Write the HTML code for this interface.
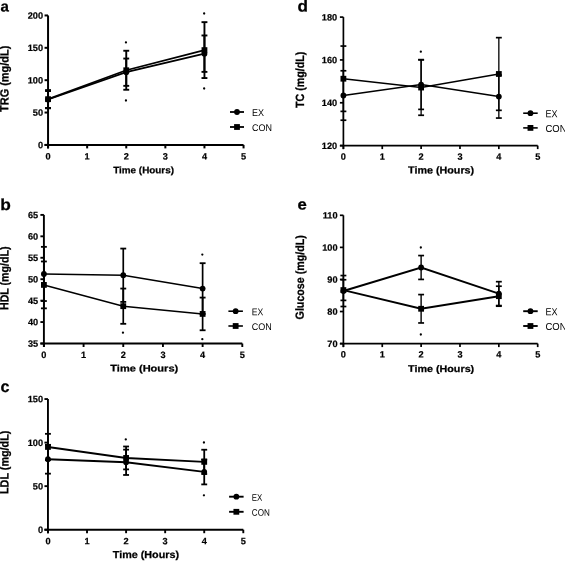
<!DOCTYPE html>
<html><head><meta charset="utf-8"><style>
html,body{margin:0;padding:0;background:#fff;}
body{width:565px;height:561px;overflow:hidden;}
svg{display:block;will-change:transform;}
text{font-family:"Liberation Sans", sans-serif;fill:#000;text-rendering:geometricPrecision;}
.tl{stroke:#000;stroke-width:0.2;}
.tt{stroke:#000;stroke-width:0.25;}
line,polyline{stroke:#000;stroke-linecap:butt;}
</style></head><body>
<svg width="565" height="561" viewBox="0 0 565 561">
<rect width="565" height="561" fill="#fff"/>
<line x1="48.05" y1="15.45" x2="48.05" y2="148.4" stroke-width="2"/>
<line x1="44.55" y1="144.9" x2="243.55" y2="144.9" stroke-width="2"/>
<line x1="44.55" y1="144.9" x2="48.05" y2="144.9" stroke-width="2"/>
<text transform="translate(43 148.2) rotate(0.05)" font-size="9.2" font-weight="bold" text-anchor="end" class="tl">0</text>
<line x1="44.55" y1="112.54" x2="48.05" y2="112.54" stroke-width="2"/>
<text transform="translate(43 115.84) rotate(0.05)" font-size="9.2" font-weight="bold" text-anchor="end" class="tl">50</text>
<line x1="44.55" y1="80.18" x2="48.05" y2="80.18" stroke-width="2"/>
<text transform="translate(43 83.48) rotate(0.05)" font-size="9.2" font-weight="bold" text-anchor="end" class="tl">100</text>
<line x1="44.55" y1="47.81" x2="48.05" y2="47.81" stroke-width="2"/>
<text transform="translate(43 51.11) rotate(0.05)" font-size="9.2" font-weight="bold" text-anchor="end" class="tl">150</text>
<line x1="44.55" y1="15.45" x2="48.05" y2="15.45" stroke-width="2"/>
<text transform="translate(43 18.75) rotate(0.05)" font-size="9.2" font-weight="bold" text-anchor="end" class="tl">200</text>
<line x1="48.05" y1="144.9" x2="48.05" y2="148.4" stroke-width="2"/>
<text transform="translate(48.05 159.6) rotate(0.05)" font-size="9.2" font-weight="bold" text-anchor="middle" class="tl">0</text>
<line x1="87.15" y1="144.9" x2="87.15" y2="148.4" stroke-width="2"/>
<text transform="translate(87.15 159.6) rotate(0.05)" font-size="9.2" font-weight="bold" text-anchor="middle" class="tl">1</text>
<line x1="126.25" y1="144.9" x2="126.25" y2="148.4" stroke-width="2"/>
<text transform="translate(126.25 159.6) rotate(0.05)" font-size="9.2" font-weight="bold" text-anchor="middle" class="tl">2</text>
<line x1="165.35" y1="144.9" x2="165.35" y2="148.4" stroke-width="2"/>
<text transform="translate(165.35 159.6) rotate(0.05)" font-size="9.2" font-weight="bold" text-anchor="middle" class="tl">3</text>
<line x1="204.45" y1="144.9" x2="204.45" y2="148.4" stroke-width="2"/>
<text transform="translate(204.45 159.6) rotate(0.05)" font-size="9.2" font-weight="bold" text-anchor="middle" class="tl">4</text>
<line x1="243.55" y1="144.9" x2="243.55" y2="148.4" stroke-width="2"/>
<text transform="translate(243.55 159.6) rotate(0.05)" font-size="9.2" font-weight="bold" text-anchor="middle" class="tl">5</text>
<text transform="translate(143.6 173.3) rotate(0.05)" font-size="9.33" font-weight="bold" text-anchor="middle" textLength="60.8" lengthAdjust="spacingAndGlyphs" class="tt">Time (Hours)</text>
<text transform="translate(8.4 78.8) rotate(-89.95) scale(1.0000 1.0900)" font-size="10.9" font-weight="bold" text-anchor="middle" textLength="66.2" lengthAdjust="spacingAndGlyphs" class="tt">TRG (mg/dL)</text>
<text transform="translate(0.45 11.6) rotate(0.05)" font-size="15.1" font-weight="bold" text-anchor="start" class="tt">a</text>
<polyline fill="none" stroke-width="1.8" points="48.05,99.5 126.25,72.2 204.45,53.67"/>
<polyline fill="none" stroke-width="1.8" points="48.05,99.17 126.25,70.25 204.45,50.1"/>
<line x1="48.05" y1="91.05" x2="48.05" y2="107.95" stroke-width="1.9"/>
<line x1="45.1" y1="91.05" x2="51" y2="91.05" stroke-width="1.9"/>
<line x1="45.1" y1="107.95" x2="51" y2="107.95" stroke-width="1.9"/>
<line x1="126.25" y1="58.55" x2="126.25" y2="85.85" stroke-width="1.9"/>
<line x1="123.3" y1="58.55" x2="129.2" y2="58.55" stroke-width="1.9"/>
<line x1="123.3" y1="85.85" x2="129.2" y2="85.85" stroke-width="1.9"/>
<line x1="204.45" y1="35.47" x2="204.45" y2="71.88" stroke-width="1.9"/>
<line x1="201.5" y1="35.47" x2="207.4" y2="35.47" stroke-width="1.9"/>
<line x1="201.5" y1="71.88" x2="207.4" y2="71.88" stroke-width="1.9"/>
<line x1="48.05" y1="90.07" x2="48.05" y2="108.28" stroke-width="1.9"/>
<line x1="45.1" y1="90.07" x2="51" y2="90.07" stroke-width="1.9"/>
<line x1="45.1" y1="108.28" x2="51" y2="108.28" stroke-width="1.9"/>
<line x1="126.25" y1="50.75" x2="126.25" y2="89.75" stroke-width="1.9"/>
<line x1="123.3" y1="50.75" x2="129.2" y2="50.75" stroke-width="1.9"/>
<line x1="123.3" y1="89.75" x2="129.2" y2="89.75" stroke-width="1.9"/>
<line x1="204.45" y1="22.15" x2="204.45" y2="78.05" stroke-width="1.9"/>
<line x1="201.5" y1="22.15" x2="207.4" y2="22.15" stroke-width="1.9"/>
<line x1="201.5" y1="78.05" x2="207.4" y2="78.05" stroke-width="1.9"/>
<circle cx="48.05" cy="99.5" r="2.9"/>
<circle cx="126.25" cy="72.2" r="2.9"/>
<circle cx="204.45" cy="53.67" r="2.9"/>
<rect x="45.15" y="96.27" width="5.8" height="5.8"/>
<rect x="123.35" y="67.35" width="5.8" height="5.8"/>
<rect x="201.55" y="47.2" width="5.8" height="5.8"/>
<circle cx="125.95" cy="42.4" r="1.15"/>
<circle cx="125.95" cy="100.5" r="1.15"/>
<circle cx="204.15" cy="13.5" r="1.15"/>
<circle cx="204.15" cy="88.5" r="1.15"/>
<line x1="230" y1="112" x2="244" y2="112" stroke-width="1.8"/>
<circle cx="237" cy="112" r="2.9"/>
<text transform="translate(252 116) rotate(0.05)" font-size="9.7" font-weight="normal" text-anchor="start" textLength="12" lengthAdjust="spacingAndGlyphs">EX</text>
<line x1="230" y1="127" x2="244" y2="127" stroke-width="1.8"/>
<rect x="234.1" y="124.1" width="5.8" height="5.8"/>
<text transform="translate(252 131) rotate(0.05)" font-size="9.7" font-weight="normal" text-anchor="start" textLength="20" lengthAdjust="spacingAndGlyphs">CON</text>
<line x1="43.9" y1="214.9" x2="43.9" y2="347" stroke-width="1.9"/>
<line x1="40.4" y1="343.5" x2="242.3" y2="343.5" stroke-width="1.9"/>
<line x1="40.4" y1="343.5" x2="43.9" y2="343.5" stroke-width="1.9"/>
<text transform="translate(38.2 346.8) rotate(0.05)" font-size="9.2" font-weight="bold" text-anchor="end" class="tl">35</text>
<line x1="40.4" y1="322.07" x2="43.9" y2="322.07" stroke-width="1.9"/>
<text transform="translate(38.2 325.37) rotate(0.05)" font-size="9.2" font-weight="bold" text-anchor="end" class="tl">40</text>
<line x1="40.4" y1="300.63" x2="43.9" y2="300.63" stroke-width="1.9"/>
<text transform="translate(38.2 303.93) rotate(0.05)" font-size="9.2" font-weight="bold" text-anchor="end" class="tl">45</text>
<line x1="40.4" y1="279.2" x2="43.9" y2="279.2" stroke-width="1.9"/>
<text transform="translate(38.2 282.5) rotate(0.05)" font-size="9.2" font-weight="bold" text-anchor="end" class="tl">50</text>
<line x1="40.4" y1="257.77" x2="43.9" y2="257.77" stroke-width="1.9"/>
<text transform="translate(38.2 261.07) rotate(0.05)" font-size="9.2" font-weight="bold" text-anchor="end" class="tl">55</text>
<line x1="40.4" y1="236.33" x2="43.9" y2="236.33" stroke-width="1.9"/>
<text transform="translate(38.2 239.63) rotate(0.05)" font-size="9.2" font-weight="bold" text-anchor="end" class="tl">60</text>
<line x1="40.4" y1="214.9" x2="43.9" y2="214.9" stroke-width="1.9"/>
<text transform="translate(38.2 218.2) rotate(0.05)" font-size="9.2" font-weight="bold" text-anchor="end" class="tl">65</text>
<line x1="43.9" y1="343.5" x2="43.9" y2="347" stroke-width="1.9"/>
<text transform="translate(43.9 357.9) rotate(0.05)" font-size="9.2" font-weight="bold" text-anchor="middle" class="tl">0</text>
<line x1="83.58" y1="343.5" x2="83.58" y2="347" stroke-width="1.9"/>
<text transform="translate(83.58 357.9) rotate(0.05)" font-size="9.2" font-weight="bold" text-anchor="middle" class="tl">1</text>
<line x1="123.26" y1="343.5" x2="123.26" y2="347" stroke-width="1.9"/>
<text transform="translate(123.26 357.9) rotate(0.05)" font-size="9.2" font-weight="bold" text-anchor="middle" class="tl">2</text>
<line x1="162.94" y1="343.5" x2="162.94" y2="347" stroke-width="1.9"/>
<text transform="translate(162.94 357.9) rotate(0.05)" font-size="9.2" font-weight="bold" text-anchor="middle" class="tl">3</text>
<line x1="202.62" y1="343.5" x2="202.62" y2="347" stroke-width="1.9"/>
<text transform="translate(202.62 357.9) rotate(0.05)" font-size="9.2" font-weight="bold" text-anchor="middle" class="tl">4</text>
<line x1="242.3" y1="343.5" x2="242.3" y2="347" stroke-width="1.9"/>
<text transform="translate(242.3 357.9) rotate(0.05)" font-size="9.2" font-weight="bold" text-anchor="middle" class="tl">5</text>
<text transform="translate(144.25 371.4) rotate(0.05)" font-size="9.3" font-weight="bold" text-anchor="middle" textLength="67.9" lengthAdjust="spacingAndGlyphs" class="tt">Time (Hours)</text>
<text transform="translate(8.4 278.25) rotate(-89.95) scale(1.0000 1.0900)" font-size="10.9" font-weight="bold" text-anchor="middle" textLength="63.5" lengthAdjust="spacingAndGlyphs" class="tt">HDL (mg/dL)</text>
<text transform="translate(0.35 209.9) rotate(0.05) scale(1.0800 1.0000)" font-size="16" font-weight="bold" text-anchor="start" class="tt">b</text>
<polyline fill="none" stroke-width="1.6" points="43.9,273.94 123.26,275.23 202.62,288.56"/>
<polyline fill="none" stroke-width="1.6" points="43.9,284.91 123.26,306.19 202.62,313.93"/>
<line x1="43.9" y1="246.85" x2="43.9" y2="301.03" stroke-width="1.7"/>
<line x1="40.95" y1="246.85" x2="46.85" y2="246.85" stroke-width="1.8"/>
<line x1="40.95" y1="301.03" x2="46.85" y2="301.03" stroke-width="1.8"/>
<line x1="123.26" y1="248.57" x2="123.26" y2="301.89" stroke-width="1.7"/>
<line x1="120.31" y1="248.57" x2="126.21" y2="248.57" stroke-width="1.8"/>
<line x1="120.31" y1="301.89" x2="126.21" y2="301.89" stroke-width="1.8"/>
<line x1="202.62" y1="263.19" x2="202.62" y2="313.93" stroke-width="1.7"/>
<line x1="199.67" y1="263.19" x2="205.57" y2="263.19" stroke-width="1.8"/>
<line x1="199.67" y1="313.93" x2="205.57" y2="313.93" stroke-width="1.8"/>
<line x1="43.9" y1="261.47" x2="43.9" y2="308.34" stroke-width="1.7"/>
<line x1="40.95" y1="261.47" x2="46.85" y2="261.47" stroke-width="1.8"/>
<line x1="40.95" y1="308.34" x2="46.85" y2="308.34" stroke-width="1.8"/>
<line x1="123.26" y1="288.56" x2="123.26" y2="323.82" stroke-width="1.7"/>
<line x1="120.31" y1="288.56" x2="126.21" y2="288.56" stroke-width="1.8"/>
<line x1="120.31" y1="323.82" x2="126.21" y2="323.82" stroke-width="1.8"/>
<line x1="202.62" y1="297.59" x2="202.62" y2="330.27" stroke-width="1.7"/>
<line x1="199.67" y1="297.59" x2="205.57" y2="297.59" stroke-width="1.8"/>
<line x1="199.67" y1="330.27" x2="205.57" y2="330.27" stroke-width="1.8"/>
<circle cx="43.9" cy="273.94" r="2.9"/>
<circle cx="123.26" cy="275.23" r="2.9"/>
<circle cx="202.62" cy="288.56" r="2.9"/>
<rect x="41" y="282.01" width="5.8" height="5.8"/>
<rect x="120.36" y="303.29" width="5.8" height="5.8"/>
<rect x="199.72" y="311.03" width="5.8" height="5.8"/>
<circle cx="122.96" cy="332.7" r="1.15"/>
<circle cx="202.32" cy="254.6" r="1.15"/>
<circle cx="202.32" cy="339.2" r="1.15"/>
<line x1="228.4" y1="311.2" x2="242.9" y2="311.2" stroke-width="1.6"/>
<circle cx="235.65" cy="311.2" r="2.9"/>
<text transform="translate(251.8 315.2) rotate(0.05)" font-size="9.7" font-weight="normal" text-anchor="start" textLength="11.5" lengthAdjust="spacingAndGlyphs">EX</text>
<line x1="228.4" y1="326" x2="242.9" y2="326" stroke-width="1.6"/>
<rect x="232.75" y="323.1" width="5.8" height="5.8"/>
<text transform="translate(251.8 330) rotate(0.05)" font-size="9.7" font-weight="normal" text-anchor="start" textLength="20" lengthAdjust="spacingAndGlyphs">CON</text>
<line x1="47.95" y1="399.05" x2="47.95" y2="533.2" stroke-width="1.9"/>
<line x1="44.45" y1="529.7" x2="243.3" y2="529.7" stroke-width="1.9"/>
<line x1="44.45" y1="529.7" x2="47.95" y2="529.7" stroke-width="1.9"/>
<text transform="translate(43 533) rotate(0.05)" font-size="9.2" font-weight="bold" text-anchor="end" class="tl">0</text>
<line x1="44.45" y1="486.15" x2="47.95" y2="486.15" stroke-width="1.9"/>
<text transform="translate(43 489.45) rotate(0.05)" font-size="9.2" font-weight="bold" text-anchor="end" class="tl">50</text>
<line x1="44.45" y1="442.6" x2="47.95" y2="442.6" stroke-width="1.9"/>
<text transform="translate(43 445.9) rotate(0.05)" font-size="9.2" font-weight="bold" text-anchor="end" class="tl">100</text>
<line x1="44.45" y1="399.05" x2="47.95" y2="399.05" stroke-width="1.9"/>
<text transform="translate(43 402.35) rotate(0.05)" font-size="9.2" font-weight="bold" text-anchor="end" class="tl">150</text>
<line x1="47.95" y1="529.7" x2="47.95" y2="533.2" stroke-width="1.9"/>
<text transform="translate(47.95 544.3) rotate(0.05)" font-size="9.2" font-weight="bold" text-anchor="middle" class="tl">0</text>
<line x1="87.02" y1="529.7" x2="87.02" y2="533.2" stroke-width="1.9"/>
<text transform="translate(87.02 544.3) rotate(0.05)" font-size="9.2" font-weight="bold" text-anchor="middle" class="tl">1</text>
<line x1="126.09" y1="529.7" x2="126.09" y2="533.2" stroke-width="1.9"/>
<text transform="translate(126.09 544.3) rotate(0.05)" font-size="9.2" font-weight="bold" text-anchor="middle" class="tl">2</text>
<line x1="165.16" y1="529.7" x2="165.16" y2="533.2" stroke-width="1.9"/>
<text transform="translate(165.16 544.3) rotate(0.05)" font-size="9.2" font-weight="bold" text-anchor="middle" class="tl">3</text>
<line x1="204.23" y1="529.7" x2="204.23" y2="533.2" stroke-width="1.9"/>
<text transform="translate(204.23 544.3) rotate(0.05)" font-size="9.2" font-weight="bold" text-anchor="middle" class="tl">4</text>
<line x1="243.3" y1="529.7" x2="243.3" y2="533.2" stroke-width="1.9"/>
<text transform="translate(243.3 544.3) rotate(0.05)" font-size="9.2" font-weight="bold" text-anchor="middle" class="tl">5</text>
<text transform="translate(145.9 558) rotate(0.05)" font-size="10.15" font-weight="bold" text-anchor="middle" textLength="66.3" lengthAdjust="spacingAndGlyphs" class="tt">Time (Hours)</text>
<text transform="translate(8.4 462.3) rotate(-89.95) scale(1.0000 1.0900)" font-size="10.9" font-weight="bold" text-anchor="middle" textLength="63.4" lengthAdjust="spacingAndGlyphs" class="tt">LDL (mg/dL)</text>
<text transform="translate(0.45 392.1) rotate(0.05)" font-size="16.2" font-weight="bold" text-anchor="start" class="tt">c</text>
<polyline fill="none" stroke-width="1.9" points="47.95,459.25 126.09,462.31 204.23,471.91"/>
<polyline fill="none" stroke-width="1.9" points="47.95,446.94 126.09,457.94 204.23,461.87"/>
<line x1="47.95" y1="444.84" x2="47.95" y2="473.66" stroke-width="1.8"/>
<line x1="45" y1="444.84" x2="50.9" y2="444.84" stroke-width="1.8"/>
<line x1="45" y1="473.66" x2="50.9" y2="473.66" stroke-width="1.8"/>
<line x1="126.09" y1="449.64" x2="126.09" y2="474.97" stroke-width="1.8"/>
<line x1="123.14" y1="449.64" x2="129.04" y2="449.64" stroke-width="1.8"/>
<line x1="123.14" y1="474.97" x2="129.04" y2="474.97" stroke-width="1.8"/>
<line x1="204.23" y1="459.42" x2="204.23" y2="484.4" stroke-width="1.8"/>
<line x1="201.28" y1="459.42" x2="207.18" y2="459.42" stroke-width="1.8"/>
<line x1="201.28" y1="484.4" x2="207.18" y2="484.4" stroke-width="1.8"/>
<line x1="47.95" y1="433.84" x2="47.95" y2="460.04" stroke-width="1.8"/>
<line x1="45" y1="433.84" x2="50.9" y2="433.84" stroke-width="1.8"/>
<line x1="45" y1="460.04" x2="50.9" y2="460.04" stroke-width="1.8"/>
<line x1="126.09" y1="446.5" x2="126.09" y2="469.38" stroke-width="1.8"/>
<line x1="123.14" y1="446.5" x2="129.04" y2="446.5" stroke-width="1.8"/>
<line x1="123.14" y1="469.38" x2="129.04" y2="469.38" stroke-width="1.8"/>
<line x1="204.23" y1="449.73" x2="204.23" y2="474.01" stroke-width="1.8"/>
<line x1="201.28" y1="449.73" x2="207.18" y2="449.73" stroke-width="1.8"/>
<line x1="201.28" y1="474.01" x2="207.18" y2="474.01" stroke-width="1.8"/>
<circle cx="47.95" cy="459.25" r="2.9"/>
<circle cx="126.09" cy="462.31" r="2.9"/>
<circle cx="204.23" cy="471.91" r="2.9"/>
<rect x="45.05" y="444.04" width="5.8" height="5.8"/>
<rect x="123.19" y="455.04" width="5.8" height="5.8"/>
<rect x="201.33" y="458.97" width="5.8" height="5.8"/>
<circle cx="125.79" cy="439.4" r="1.15"/>
<circle cx="203.93" cy="442.5" r="1.15"/>
<circle cx="203.93" cy="495.3" r="1.15"/>
<line x1="229.1" y1="496.7" x2="243.6" y2="496.7" stroke-width="1.9"/>
<circle cx="236.35" cy="496.7" r="2.9"/>
<text transform="translate(251.8 500.7) rotate(0.05)" font-size="9.5" font-weight="normal" text-anchor="start" textLength="10.5" lengthAdjust="spacingAndGlyphs">EX</text>
<line x1="229.1" y1="511.8" x2="243.6" y2="511.8" stroke-width="1.9"/>
<rect x="233.45" y="508.9" width="5.8" height="5.8"/>
<text transform="translate(251.8 515.8) rotate(0.05)" font-size="9.5" font-weight="normal" text-anchor="start" textLength="18" lengthAdjust="spacingAndGlyphs">CON</text>
<line x1="343.4" y1="17.1" x2="343.4" y2="149.1" stroke-width="1.7"/>
<line x1="339.9" y1="145.6" x2="537.7" y2="145.6" stroke-width="1.7"/>
<line x1="339.9" y1="145.6" x2="343.4" y2="145.6" stroke-width="1.7"/>
<text transform="translate(337.2 148.9) rotate(0.05)" font-size="9.2" font-weight="bold" text-anchor="end" class="tl">120</text>
<line x1="339.9" y1="102.77" x2="343.4" y2="102.77" stroke-width="1.7"/>
<text transform="translate(337.2 106.07) rotate(0.05)" font-size="9.2" font-weight="bold" text-anchor="end" class="tl">140</text>
<line x1="339.9" y1="59.93" x2="343.4" y2="59.93" stroke-width="1.7"/>
<text transform="translate(337.2 63.23) rotate(0.05)" font-size="9.2" font-weight="bold" text-anchor="end" class="tl">160</text>
<line x1="339.9" y1="17.1" x2="343.4" y2="17.1" stroke-width="1.7"/>
<text transform="translate(337.2 20.4) rotate(0.05)" font-size="9.2" font-weight="bold" text-anchor="end" class="tl">180</text>
<line x1="343.4" y1="145.6" x2="343.4" y2="149.1" stroke-width="1.7"/>
<text transform="translate(343.4 159.7) rotate(0.05)" font-size="9.2" font-weight="bold" text-anchor="middle" class="tl">0</text>
<line x1="382.26" y1="145.6" x2="382.26" y2="149.1" stroke-width="1.7"/>
<text transform="translate(382.26 159.7) rotate(0.05)" font-size="9.2" font-weight="bold" text-anchor="middle" class="tl">1</text>
<line x1="421.12" y1="145.6" x2="421.12" y2="149.1" stroke-width="1.7"/>
<text transform="translate(421.12 159.7) rotate(0.05)" font-size="9.2" font-weight="bold" text-anchor="middle" class="tl">2</text>
<line x1="459.98" y1="145.6" x2="459.98" y2="149.1" stroke-width="1.7"/>
<text transform="translate(459.98 159.7) rotate(0.05)" font-size="9.2" font-weight="bold" text-anchor="middle" class="tl">3</text>
<line x1="498.84" y1="145.6" x2="498.84" y2="149.1" stroke-width="1.7"/>
<text transform="translate(498.84 159.7) rotate(0.05)" font-size="9.2" font-weight="bold" text-anchor="middle" class="tl">4</text>
<line x1="537.7" y1="145.6" x2="537.7" y2="149.1" stroke-width="1.7"/>
<text transform="translate(537.7 159.7) rotate(0.05)" font-size="9.2" font-weight="bold" text-anchor="middle" class="tl">5</text>
<text transform="translate(441.1 173.4) rotate(0.05)" font-size="10" font-weight="bold" text-anchor="middle" textLength="66.2" lengthAdjust="spacingAndGlyphs" class="tt">Time (Hours)</text>
<text transform="translate(303.9 79.85) rotate(-89.95) scale(1.0000 1.0900)" font-size="10.9" font-weight="bold" text-anchor="middle" textLength="56.3" lengthAdjust="spacingAndGlyphs" class="tt">TC (mg/dL)</text>
<text transform="translate(297.5 11.5) rotate(0.05) scale(1.0700 1.0000)" font-size="16" font-weight="bold" text-anchor="start" class="tt">d</text>
<polyline fill="none" stroke-width="1.6" points="343.4,95.49 421.12,84.53 498.84,96.56"/>
<polyline fill="none" stroke-width="1.6" points="343.4,78.72 421.12,87.54 498.84,73.99"/>
<line x1="343.4" y1="70.77" x2="343.4" y2="120.22" stroke-width="1.3"/>
<line x1="340.45" y1="70.77" x2="346.35" y2="70.77" stroke-width="1.7"/>
<line x1="340.45" y1="120.22" x2="346.35" y2="120.22" stroke-width="1.7"/>
<line x1="421.12" y1="59.67" x2="421.12" y2="109.38" stroke-width="1.3"/>
<line x1="418.17" y1="59.67" x2="424.07" y2="59.67" stroke-width="1.7"/>
<line x1="418.17" y1="109.38" x2="424.07" y2="109.38" stroke-width="1.7"/>
<line x1="498.84" y1="75.06" x2="498.84" y2="118.06" stroke-width="1.3"/>
<line x1="495.89" y1="75.06" x2="501.79" y2="75.06" stroke-width="1.7"/>
<line x1="495.89" y1="118.06" x2="501.79" y2="118.06" stroke-width="1.7"/>
<line x1="343.4" y1="46.06" x2="343.4" y2="111.38" stroke-width="1.3"/>
<line x1="340.45" y1="46.06" x2="346.35" y2="46.06" stroke-width="1.7"/>
<line x1="340.45" y1="111.38" x2="346.35" y2="111.38" stroke-width="1.7"/>
<line x1="421.12" y1="59.8" x2="421.12" y2="115.27" stroke-width="1.3"/>
<line x1="418.17" y1="59.8" x2="424.07" y2="59.8" stroke-width="1.7"/>
<line x1="418.17" y1="115.27" x2="424.07" y2="115.27" stroke-width="1.7"/>
<line x1="498.84" y1="37.65" x2="498.84" y2="110.33" stroke-width="1.3"/>
<line x1="495.89" y1="37.65" x2="501.79" y2="37.65" stroke-width="1.7"/>
<line x1="495.89" y1="110.33" x2="501.79" y2="110.33" stroke-width="1.7"/>
<circle cx="343.4" cy="95.49" r="2.9"/>
<circle cx="421.12" cy="84.53" r="2.9"/>
<circle cx="498.84" cy="96.56" r="2.9"/>
<rect x="340.5" y="75.82" width="5.8" height="5.8"/>
<rect x="418.22" y="84.64" width="5.8" height="5.8"/>
<rect x="495.94" y="71.09" width="5.8" height="5.8"/>
<circle cx="420.82" cy="51.7" r="1.15"/>
<line x1="523.2" y1="113.2" x2="537.7" y2="113.2" stroke-width="1.6"/>
<circle cx="530.45" cy="113.2" r="2.9"/>
<text transform="translate(545.5 117.2) rotate(0.05)" font-size="10.2" font-weight="normal" text-anchor="start" textLength="12" lengthAdjust="spacingAndGlyphs">EX</text>
<line x1="523.2" y1="127.9" x2="537.7" y2="127.9" stroke-width="1.6"/>
<rect x="527.55" y="125" width="5.8" height="5.8"/>
<text transform="translate(545.5 131.9) rotate(0.05)" font-size="10.2" font-weight="normal" text-anchor="start" textLength="21" lengthAdjust="spacingAndGlyphs">CON</text>
<line x1="343.4" y1="215.3" x2="343.4" y2="347.1" stroke-width="1.7"/>
<line x1="339.9" y1="343.6" x2="537.7" y2="343.6" stroke-width="1.7"/>
<line x1="339.9" y1="343.6" x2="343.4" y2="343.6" stroke-width="1.7"/>
<text transform="translate(337.5 346.9) rotate(0.05)" font-size="9.2" font-weight="bold" text-anchor="end" class="tl">70</text>
<line x1="339.9" y1="311.53" x2="343.4" y2="311.53" stroke-width="1.7"/>
<text transform="translate(337.5 314.83) rotate(0.05)" font-size="9.2" font-weight="bold" text-anchor="end" class="tl">80</text>
<line x1="339.9" y1="279.45" x2="343.4" y2="279.45" stroke-width="1.7"/>
<text transform="translate(337.5 282.75) rotate(0.05)" font-size="9.2" font-weight="bold" text-anchor="end" class="tl">90</text>
<line x1="339.9" y1="247.38" x2="343.4" y2="247.38" stroke-width="1.7"/>
<text transform="translate(337.5 250.68) rotate(0.05)" font-size="9.2" font-weight="bold" text-anchor="end" class="tl">100</text>
<line x1="339.9" y1="215.3" x2="343.4" y2="215.3" stroke-width="1.7"/>
<text transform="translate(337.5 218.6) rotate(0.05)" font-size="9.2" font-weight="bold" text-anchor="end" class="tl">110</text>
<line x1="343.4" y1="343.6" x2="343.4" y2="347.1" stroke-width="1.7"/>
<text transform="translate(343.4 357.6) rotate(0.05)" font-size="9.2" font-weight="bold" text-anchor="middle" class="tl">0</text>
<line x1="382.26" y1="343.6" x2="382.26" y2="347.1" stroke-width="1.7"/>
<text transform="translate(382.26 357.6) rotate(0.05)" font-size="9.2" font-weight="bold" text-anchor="middle" class="tl">1</text>
<line x1="421.12" y1="343.6" x2="421.12" y2="347.1" stroke-width="1.7"/>
<text transform="translate(421.12 357.6) rotate(0.05)" font-size="9.2" font-weight="bold" text-anchor="middle" class="tl">2</text>
<line x1="459.98" y1="343.6" x2="459.98" y2="347.1" stroke-width="1.7"/>
<text transform="translate(459.98 357.6) rotate(0.05)" font-size="9.2" font-weight="bold" text-anchor="middle" class="tl">3</text>
<line x1="498.84" y1="343.6" x2="498.84" y2="347.1" stroke-width="1.7"/>
<text transform="translate(498.84 357.6) rotate(0.05)" font-size="9.2" font-weight="bold" text-anchor="middle" class="tl">4</text>
<line x1="537.7" y1="343.6" x2="537.7" y2="347.1" stroke-width="1.7"/>
<text transform="translate(537.7 357.6) rotate(0.05)" font-size="9.2" font-weight="bold" text-anchor="middle" class="tl">5</text>
<text transform="translate(441.1 371.9) rotate(0.05)" font-size="9.6" font-weight="bold" text-anchor="middle" textLength="66.2" lengthAdjust="spacingAndGlyphs" class="tt">Time (Hours)</text>
<text transform="translate(303.9 277.3) rotate(-89.95) scale(1.0000 1.0900)" font-size="10.9" font-weight="bold" text-anchor="middle" textLength="84.2" lengthAdjust="spacingAndGlyphs" class="tt">Glucose (mg/dL)</text>
<text transform="translate(297.5 209.5) rotate(0.05) scale(1.1000 1.0000)" font-size="15.2" font-weight="bold" text-anchor="start" class="tt">e</text>
<polyline fill="none" stroke-width="1.9" points="343.4,291.03 421.12,267.49 498.84,293.61"/>
<polyline fill="none" stroke-width="1.9" points="343.4,290.07 421.12,308.77 498.84,296.19"/>
<line x1="343.4" y1="275.55" x2="343.4" y2="306.51" stroke-width="1.4"/>
<line x1="340.45" y1="275.55" x2="346.35" y2="275.55" stroke-width="1.7"/>
<line x1="340.45" y1="306.51" x2="346.35" y2="306.51" stroke-width="1.7"/>
<line x1="421.12" y1="255.56" x2="421.12" y2="279.42" stroke-width="1.4"/>
<line x1="418.17" y1="255.56" x2="424.07" y2="255.56" stroke-width="1.7"/>
<line x1="418.17" y1="279.42" x2="424.07" y2="279.42" stroke-width="1.7"/>
<line x1="498.84" y1="281.68" x2="498.84" y2="305.55" stroke-width="1.4"/>
<line x1="495.89" y1="281.68" x2="501.79" y2="281.68" stroke-width="1.7"/>
<line x1="495.89" y1="305.55" x2="501.79" y2="305.55" stroke-width="1.7"/>
<line x1="343.4" y1="279.75" x2="343.4" y2="300.39" stroke-width="1.4"/>
<line x1="340.45" y1="279.75" x2="346.35" y2="279.75" stroke-width="1.7"/>
<line x1="340.45" y1="300.39" x2="346.35" y2="300.39" stroke-width="1.7"/>
<line x1="421.12" y1="294.58" x2="421.12" y2="322.96" stroke-width="1.4"/>
<line x1="418.17" y1="294.58" x2="424.07" y2="294.58" stroke-width="1.7"/>
<line x1="418.17" y1="322.96" x2="424.07" y2="322.96" stroke-width="1.7"/>
<line x1="498.84" y1="286.2" x2="498.84" y2="306.19" stroke-width="1.4"/>
<line x1="495.89" y1="286.2" x2="501.79" y2="286.2" stroke-width="1.7"/>
<line x1="495.89" y1="306.19" x2="501.79" y2="306.19" stroke-width="1.7"/>
<circle cx="343.4" cy="291.03" r="2.9"/>
<circle cx="421.12" cy="267.49" r="2.9"/>
<circle cx="498.84" cy="293.61" r="2.9"/>
<rect x="340.5" y="287.17" width="5.8" height="5.8"/>
<rect x="418.22" y="305.87" width="5.8" height="5.8"/>
<rect x="495.94" y="293.29" width="5.8" height="5.8"/>
<circle cx="420.82" cy="247.5" r="1.15"/>
<circle cx="420.82" cy="334.5" r="1.15"/>
<line x1="523.2" y1="311.2" x2="537.7" y2="311.2" stroke-width="1.9"/>
<circle cx="530.45" cy="311.2" r="2.9"/>
<text transform="translate(545.5 315.2) rotate(0.05)" font-size="10.2" font-weight="normal" text-anchor="start" textLength="12" lengthAdjust="spacingAndGlyphs">EX</text>
<line x1="523.2" y1="326" x2="537.7" y2="326" stroke-width="1.9"/>
<rect x="527.55" y="323.1" width="5.8" height="5.8"/>
<text transform="translate(545.5 330) rotate(0.05)" font-size="10.2" font-weight="normal" text-anchor="start" textLength="21" lengthAdjust="spacingAndGlyphs">CON</text>
</svg>
</body></html>
